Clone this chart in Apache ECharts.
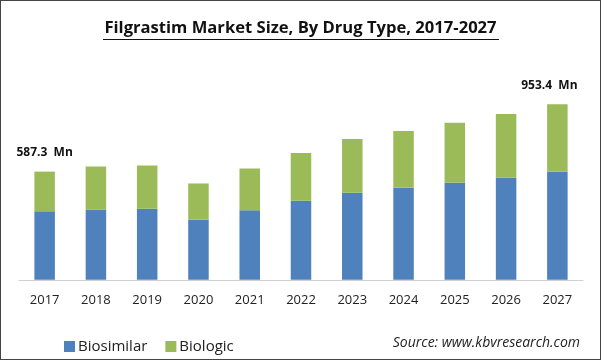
<!DOCTYPE html>
<html><head><meta charset="utf-8">
<script src="https://cdn.jsdelivr.net/npm/echarts@6/dist/echarts.min.js"></script>
<style>html,body{margin:0;padding:0;background:#fff}#c{width:601px;height:360px;box-sizing:border-box;border:1.5px solid #444}</style>
</head><body><div id="c"></div>
<script>
const categories = ['2017','2018','2019','2020','2021','2022','2023','2024','2025','2026','2027'];
const biosimilar = [371.5, 382, 386, 328, 377, 429, 473, 500, 527, 554, 586];
const biologic = [215.8, 233, 234.5, 195, 227, 260, 292, 308, 325, 346, 367.4];
const totalLabels = {0: '587.3  Mn', 10: '953.4  Mn'};

const chart = echarts.init(document.getElementById('c'), null, {renderer: 'canvas'});
const topData = biologic.map((v, i) => {
  if (totalLabels[i] === undefined) return v;
  return {value: v, label: {show: true, position: 'top', distance: 13, formatter: totalLabels[i],
    offset: i === 10 ? [-8, 0] : [0, 0],
    color: '#111', fontWeight: 'bold', fontSize: 12, fontFamily: 'Open Sans'}};
});
chart.setOption({
  animation: false,
  title: {text: 'Filgrastim Market Size, By Drug Type, 2017-2027', left: 'center', top: 14,
    textStyle: {fontFamily: 'Open Sans', fontWeight: 'bold', fontSize: 16.6, color: '#111'}},
  grid: {left: 18, right: 17, top: 94.6, bottom: 79.2},
  xAxis: {type: 'category', data: categories,
    axisLine: {lineStyle: {color: '#d0d0d0', width: 1}}, axisTick: {show: false},
    axisLabel: {color: '#222', fontSize: 13, fontFamily: 'Open Sans', margin: 14}},
  yAxis: {type: 'value', min: 0, max: 1000, show: false, splitLine: {show: false}},
  legend: {left: 58, top: 333, itemWidth: 11, itemHeight: 11, itemGap: 18, icon: 'rect',
    textStyle: {fontFamily: 'Open Sans', fontSize: 15, color: '#222', padding: [0,0,0,-2]},
    data: ['Biosimilar', 'Biologic']},
  graphic: [
    {type: 'text', right: 20, top: 335,
     style: {text: 'Source: www.kbvresearch.com', fontFamily: 'Open Sans', fontStyle: 'italic', fontSize: 14, fill: '#222'}},
    {type: 'line', shape: {x1: 102, y1: 38.5, x2: 498, y2: 38.5}, style: {stroke: '#111', lineWidth: 1.2}}
  ],
  series: [
    {name: 'Biosimilar', type: 'bar', stack: 't', data: biosimilar, barWidth: '40%', itemStyle: {color: '#4f81bd'}},
    {name: 'Biologic', type: 'bar', stack: 't', data: topData, barWidth: '40%', itemStyle: {color: '#9bbb59'}}
  ]
});
</script>
</body></html>
